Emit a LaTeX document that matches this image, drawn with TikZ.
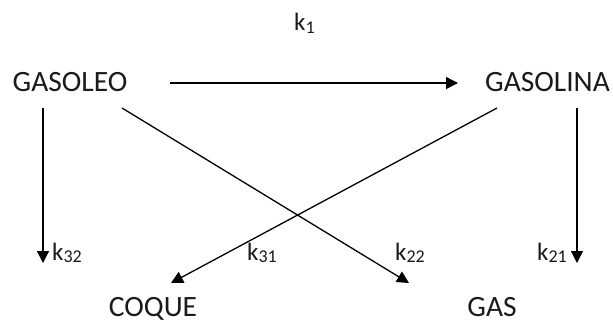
\documentclass[tikz,border=0pt]{standalone}
\usepackage{fontspec}
\setmainfont{Carlito}
\usetikzlibrary{arrows.meta}
\definecolor{txt}{HTML}{1A1A1A}
\tikzset{
  big/.style={inner sep=0pt, anchor=base, text=txt, font=\fontsize{29.5}{32}\selectfont},
  klab/.style={inner sep=0pt, anchor=base west, text=txt, font=\fontsize{25}{28}\selectfont},
  conn/.style={line width=1.3pt, -{Triangle[length=12pt,width=12pt]}}
}
\newcommand{\ksub}[1]{k\raisebox{-0.25ex}{\fontsize{18}{20}\selectfont #1}}
\begin{document}
\begin{tikzpicture}[x=1pt,y=-1pt]
\useasboundingbox (0,0) rectangle (613,322);
% nodes
\node[big] (gasoleo) at (70,91) {GASOLEO};
\node[big] (gasolina) at (547.5,91) {GASOLINA};
\node[big] (coque) at (153,316) {COQUE};
\node[big] (gas) at (492,316) {GAS};
\node[klab] (k1) at (294,30.5) {\ksub{1}};
\node[klab] (k32) at (52,260) {\ksub{32}};
\node[klab] (k31) at (247,260) {\ksub{31}};
\node[klab] (k22) at (395,260) {\ksub{22}};
\node[klab] (k21) at (537,260) {\ksub{21}};
% connector end points
\coordinate (h1) at (170,83);
\coordinate (h2) at (458,83);
\coordinate (v1a) at (43,108);
\coordinate (v1b) at (43,263);
\coordinate (v2a) at (577,108);
\coordinate (v2b) at (577,263);
\coordinate (d1a) at (122,108);
\coordinate (d1b) at (409,283);
\coordinate (d2a) at (497,108);
\coordinate (d2b) at (171,283);
% connectors
\draw[conn] (h1) -- (h2);
\draw[conn] (v1a) -- (v1b);
\draw[conn] (v2a) -- (v2b);
\draw[conn] (d1a) -- (d1b);
\draw[conn] (d2a) -- (d2b);
\end{tikzpicture}
\end{document}
